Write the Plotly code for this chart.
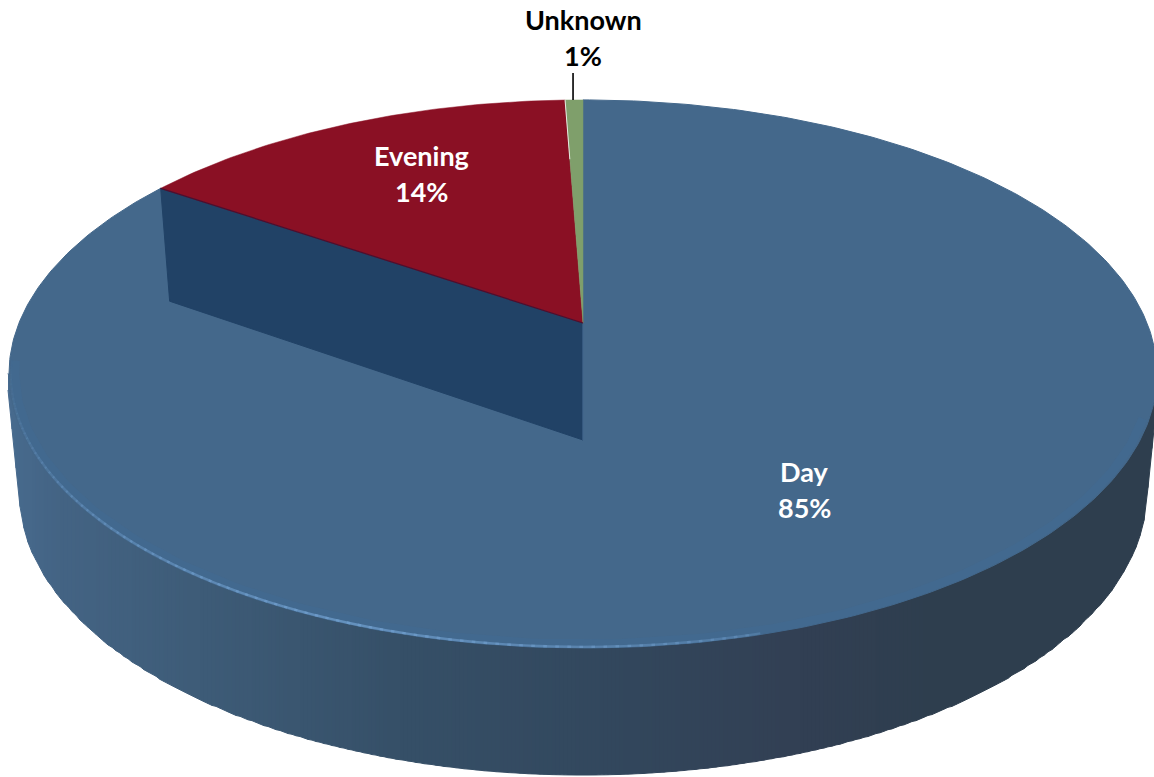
import numpy as np
import plotly.graph_objects as go

categories = ["Day", "Evening", "Unknown"]
slice_values = [84.5, 14.9, 0.6]
shown_percent = [85, 14, 1]
slice_colors = ["#44688B", "#8A1024", "#7F9F6B"]
text_colors = ["white", "white", "black"]

WIDTH, HEIGHT = 1154, 777
CX = 583.0
K = 0.186
TOP = dict(cy=323.0, rx=564.0, ry=264.6)
BOT = dict(cy=440.0, rx=552.0, ry=272.7)

INNER_WALL = "#214266"
WALL_STOPS = [(0, (72, 108, 144)), (60, (68, 100, 132)), (200, (62, 92, 120)),
              (400, (54, 80, 104)), (600, (51, 72, 94)), (800, (50, 64, 84)),
              (950, (46, 62, 78)), (1154, (47, 62, 78))]


def project(theta_deg, plane, scale=1.0):
    t = np.radians(np.asarray(theta_deg, dtype=float))
    u, v = scale * np.sin(t), scale * np.cos(t)
    w = 1 + K * v
    return CX + plane["rx"] * u / w, plane["cy"] - plane["ry"] * v / w


def wall_color(x):
    xs = [s[0] for s in WALL_STOPS]
    c = [np.interp(x, xs, [s[1][i] for s in WALL_STOPS]) for i in range(3)]
    return "rgb(%d,%d,%d)" % tuple(c)


def poly(x, y, color, line=None, lw=1):
    return go.Scatter(x=list(x), y=list(y), mode="lines", fill="toself", fillcolor=color,
                      line=dict(color=line or color, width=lw), hoverinfo="skip", showlegend=False)


def curve(x, y, color, lw):
    return go.Scatter(x=list(x), y=list(y), mode="lines", line=dict(color=color, width=lw),
                      hoverinfo="skip", showlegend=False)


fig = go.Figure()

# outer wall: the envelope of the lines joining the two rims, painted in vertical bands
grid = np.arange(0, WIDTH + 4, 4.0)
y_low = np.full(grid.shape, -np.inf)
y_high = np.full(grid.shape, np.inf)
for a in np.linspace(101, 259, 633):
    xt, yt = project(a, TOP)
    xb, yb = project(a, BOT)
    for f in np.linspace(0, 1, 40):
        px, py = xt + (xb - xt) * f, yt + (yb - yt) * f
        i = int(round(px / 4))
        if 0 <= i < len(grid):
            y_low[i] = max(y_low[i], py)
            y_high[i] = min(y_high[i], py)
ok = np.isfinite(y_low)
for i in np.where(ok[:-1] & ok[1:])[0]:
    xs = [grid[i], grid[i + 1], grid[i + 1], grid[i]]
    ys = [y_high[i] - 2, y_high[i + 1] - 2, y_low[i + 1], y_low[i]]
    fig.add_trace(poly(xs, ys, wall_color(grid[i] + 2), lw=1))

# slice boundaries (clockwise from twelve o'clock)
total = sum(slice_values)
bounds = np.r_[0, np.cumsum(slice_values)] / total * 360

# top faces
th = np.linspace(bounds[0], bounds[1], 400)
x, y = project(th, TOP)
ax, ay = project(0, TOP, 0)
fig.add_trace(poly(np.r_[ax, x, ax], np.r_[ay, y, ay], slice_colors[0]))

# soft rim of the top face
rx, ry = project(np.linspace(110, 262, 240), TOP, 0.99)
fig.add_trace(curve(rx, ry, "rgba(62,110,158,0.18)", 9))
highlight = np.linspace(165, 262, 98)
for a, b in zip(highlight[:-1], highlight[1:]):
    mid = (a + b) / 2
    alpha = max(0.0, 1 - abs(mid - 200) / 62) * 0.75
    sx, sy = project([a, b + 0.3], TOP, 0.997)
    fig.add_trace(curve(sx, sy, "rgba(112,158,205,%.3f)" % alpha, 2.4))

# exposed inner wall behind the missing slices
ex, ey = project(bounds[1], TOP)
bx, by = project(bounds[1], BOT)
bax, bay = project(0, BOT, 0)
fig.add_trace(poly([ax, float(ex), float(bx), bax, ax], [ay, float(ey), float(by), bay, ay], INNER_WALL))
fig.add_trace(curve([bax, bax], [ay, bay], "rgba(110,150,190,0.55)", 1))

for i in (1, 2):
    th = np.linspace(bounds[i], bounds[i + 1], 80)
    x, y = project(th, TOP)
    fig.add_trace(poly(np.r_[ax, x, ax], np.r_[ay, y, ay], slice_colors[i], lw=0.5))

fig.add_trace(curve([ax, float(ex)], [ay, float(ey)], "#4A1030", 1.2))
wx, wy = project(bounds[2], TOP, 0.7)
tx, ty = project(bounds[2], TOP)
fig.add_trace(curve([float(wx), float(tx)], [float(wy), float(ty)], "rgba(255,255,255,0.8)", 1))

# leader for the small slice
lx, ly = project((bounds[2] + bounds[3]) / 2, TOP)
fig.add_trace(curve([float(lx) - 1, float(lx) - 1], [float(ly) - 27, float(ly)], "black", 1.6))

label_spots = [(804, 471.5, 507.5), (421, 155.5, 191.5), (583, 19.5, 55.5)]
for name, pct, color, (px, py1, py2) in zip(categories, shown_percent, text_colors, label_spots):
    for txt, py in ((name, py1), (f"{pct}%", py2)):
        fig.add_annotation(x=px, y=py, text=f"<b>{txt}</b>", showarrow=False,
                           font=dict(family="Lato", size=27, color=color))

fig.update_layout(
    width=WIDTH, height=HEIGHT, margin=dict(l=0, r=0, t=0, b=0),
    paper_bgcolor="white", plot_bgcolor="white", showlegend=False,
    xaxis=dict(range=[0, WIDTH], visible=False, fixedrange=True),
    yaxis=dict(range=[HEIGHT, 0], visible=False, fixedrange=True),
)
fig.write_html("out.html", config=dict(displayModeBar=False),
               post_script="document.body.style.margin='0';document.body.style.overflow='hidden';")
